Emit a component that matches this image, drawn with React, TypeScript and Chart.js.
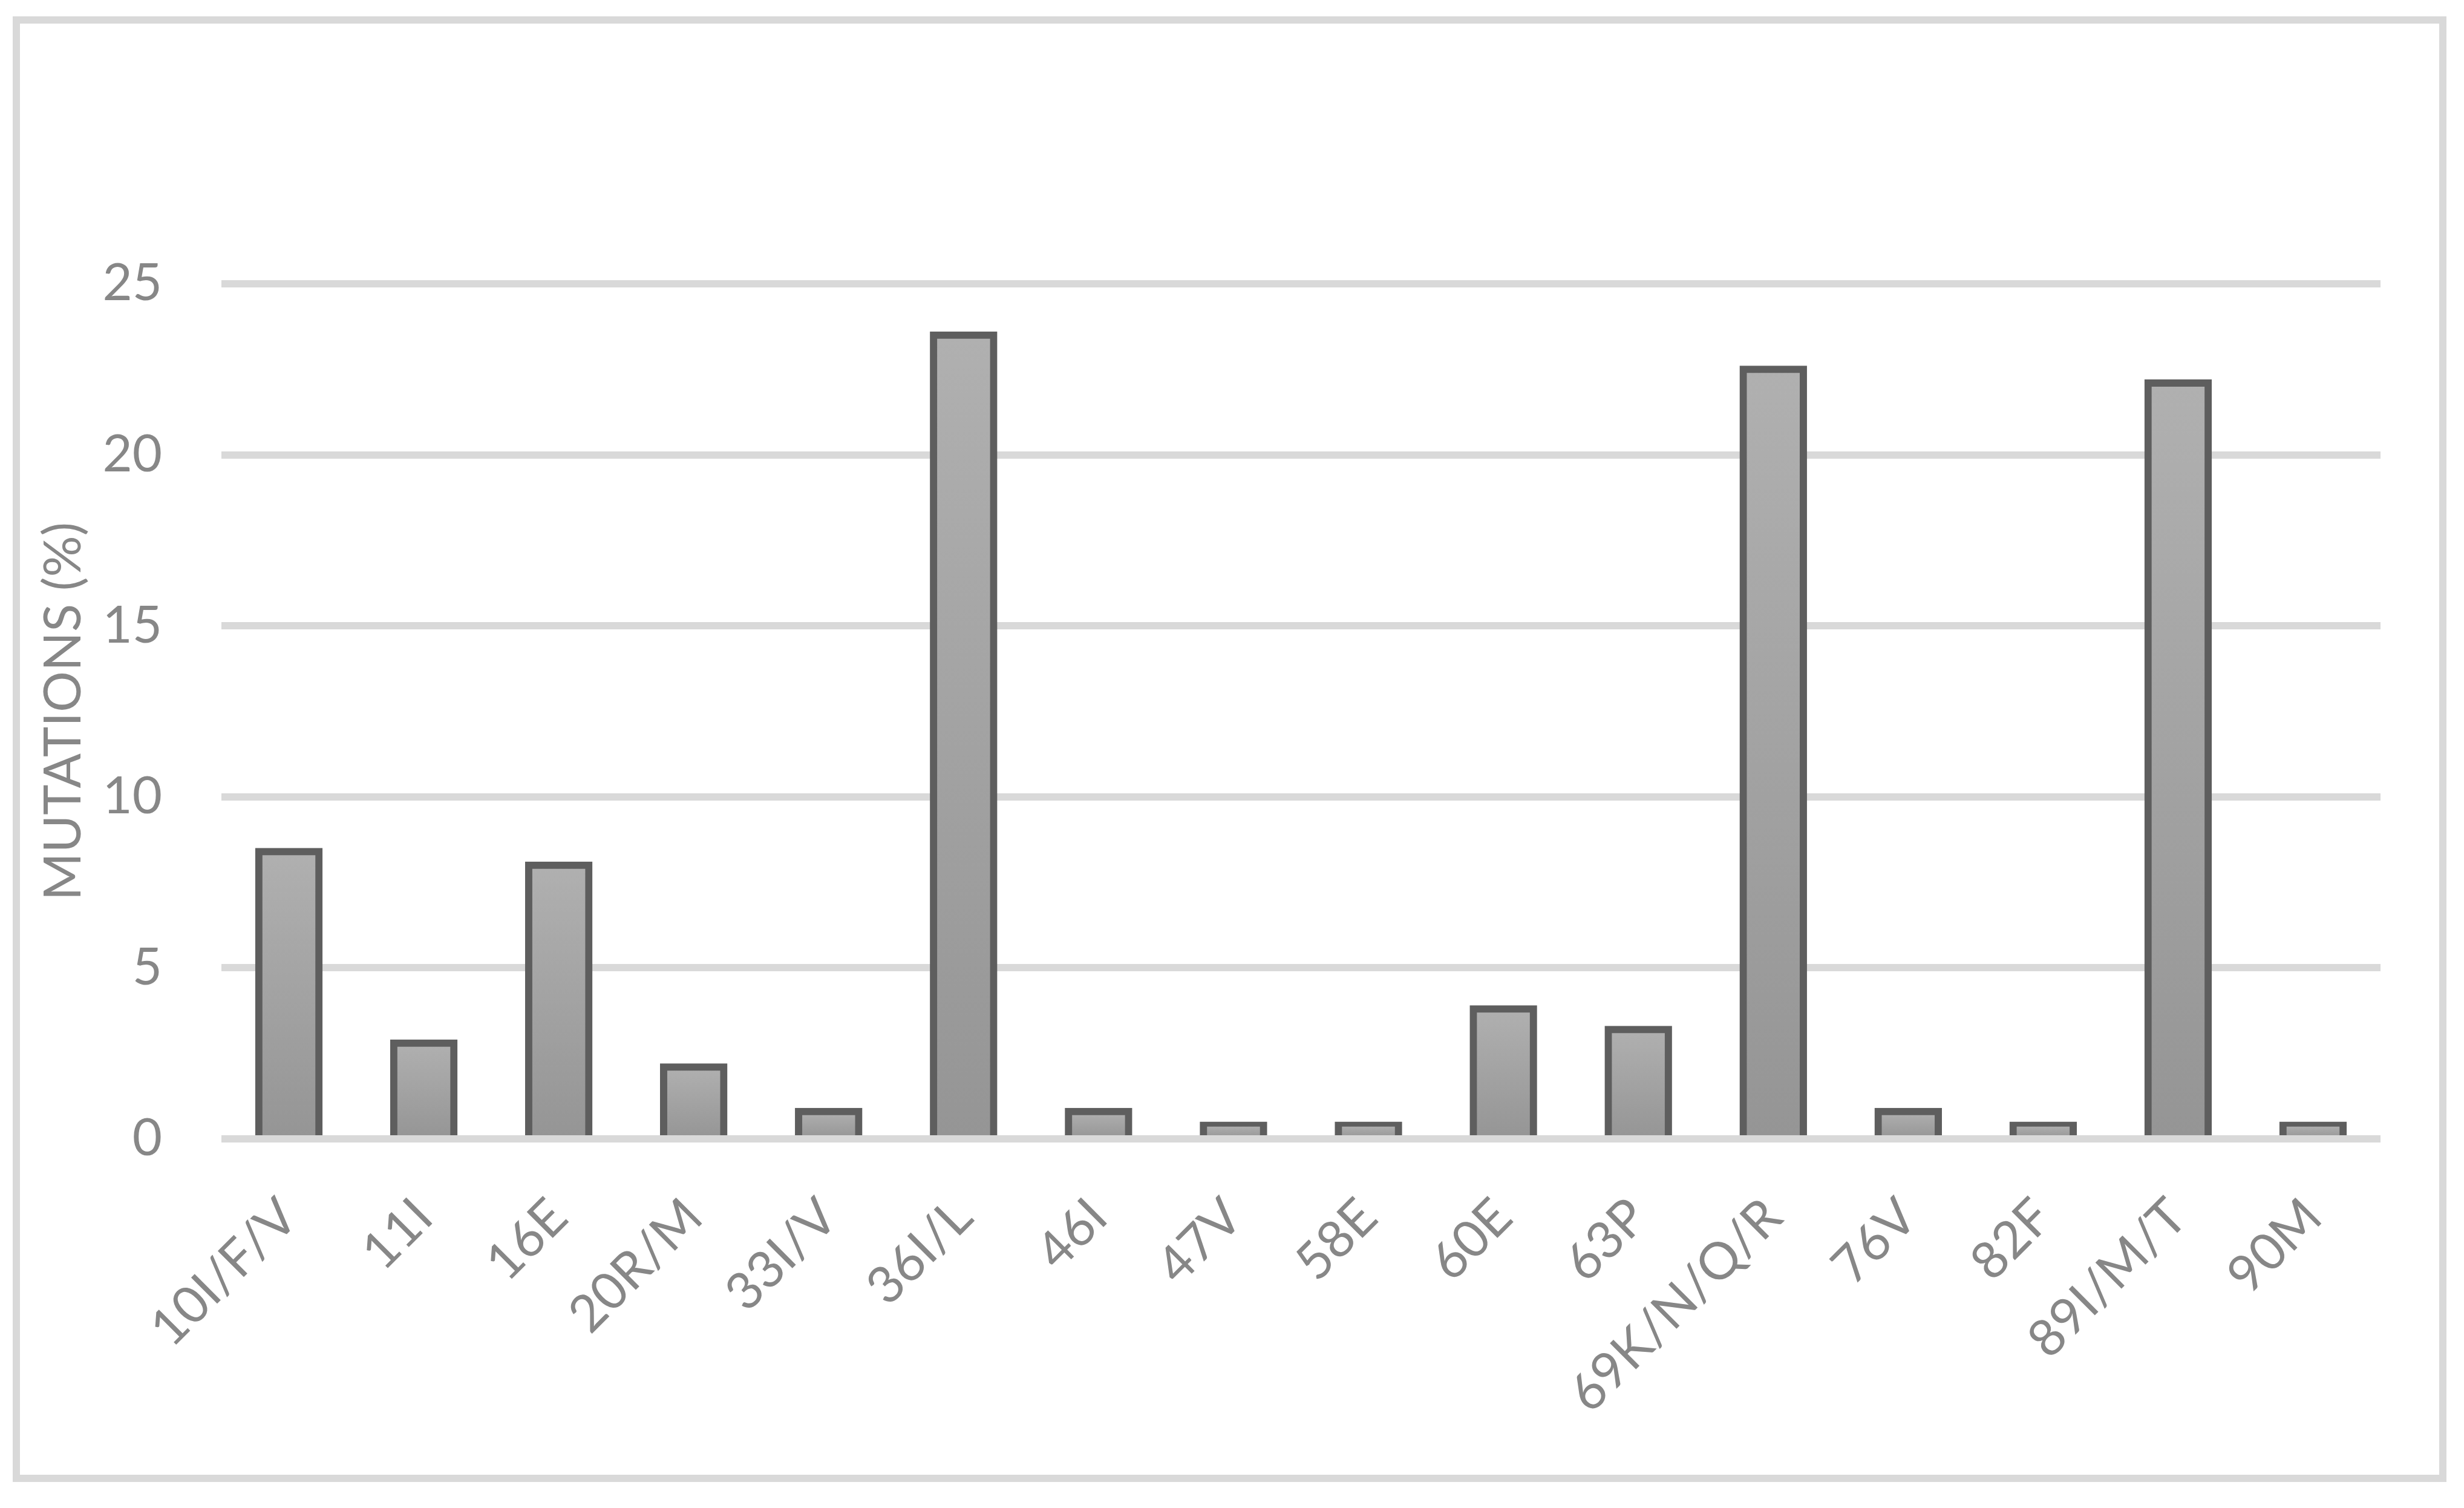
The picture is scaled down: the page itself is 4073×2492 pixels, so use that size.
import React, { useEffect, useRef } from "react";
import { Chart, registerables } from "chart.js";

Chart.register(...registerables);

const categories = [
  "10I/F/V", "11I", "16E", "20R/M", "33I/V", "36I/L", "46I", "47V",
  "58E", "60E", "63P", "69K/N/Q/R", "76V", "82F", "89I/M/T", "90M",
];
const mutationPct = [8.4, 2.8, 8.0, 2.1, 0.8, 23.5, 0.8, 0.4, 0.4, 3.8, 3.2, 22.5, 0.8, 0.4, 22.1, 0.4];
const yTicks = [0, 5, 10, 15, 20, 25];
const yTitle = "MUTATIONS (%)";

const W = 4073;
const H = 2492;
const AREA_LEFT = 366;
const AREA_RIGHT = 3935;
const AREA_TOP = 469;
const AREA_BOTTOM = 1882;

const TEXT_COLOR = "#878787";
const GRID_COLOR = "#d9d9d9";
const FONT_FAMILY = "Lato, Carlito, 'Open Sans', sans-serif";

const frame = {
  id: "frame",
  beforeDraw(chart: any) {
    const c = chart.ctx;
    c.save();
    c.fillStyle = "#ffffff";
    c.fillRect(0, 0, chart.width, chart.height);
    c.strokeStyle = GRID_COLOR;
    c.lineWidth = 12;
    c.strokeRect(27, 33, 4011, 2410);
    c.restore();
  },
};

const zeroLine = {
  id: "zeroLine",
  afterDatasetsDraw(chart: any) {
    const y = chart.scales.y;
    const a = chart.chartArea;
    const py = y.getPixelForValue(0);
    const c = chart.ctx;
    c.save();
    c.strokeStyle = GRID_COLOR;
    c.lineWidth = 12;
    c.beginPath();
    c.moveTo(a.left, py);
    c.lineTo(a.right, py);
    c.stroke();
    c.restore();
  },
};

export default function App() {
  const ref = useRef<HTMLCanvasElement | null>(null);

  useEffect(() => {
    if (!ref.current) return;
    const chart = new Chart(ref.current, {
      type: "bar",
      data: {
        labels: categories,
        datasets: [
          {
            data: mutationPct,
            backgroundColor: (ctx: any) => {
              const ch = ctx.chart;
              const ys = ch.scales && ch.scales.y;
              if (!ys || ctx.type !== "data") return "#a3a3a3";
              const top = ys.getPixelForValue(ctx.raw as number);
              const base = ys.getPixelForValue(0);
              if (!isFinite(top) || !isFinite(base) || base - top < 1) return "#a3a3a3";
              const g = ch.ctx.createLinearGradient(0, top, 0, base);
              g.addColorStop(0, "#b0b0b0");
              g.addColorStop(1, "#959595");
              return g;
            },
            borderColor: "#5e5e5e",
            borderWidth: 12,
            inflateAmount: 6,
            barPercentage: 0.446,
            categoryPercentage: 1,
          } as any,
        ],
      },
      options: {
        responsive: false,
        devicePixelRatio: 1,
        animation: false,
        layout: {
          padding: { left: 0, right: W - AREA_RIGHT, top: AREA_TOP, bottom: 0 },
        },
        plugins: {
          legend: { display: false },
          tooltip: { enabled: false },
        },
        scales: {
          x: {
            grid: { display: false, drawTicks: false },
            border: { display: false },
            ticks: {
              autoSkip: false,
              maxRotation: 45,
              minRotation: 45,
              padding: 79,
              color: TEXT_COLOR,
              font: { family: FONT_FAMILY, size: 85 },
            },
            afterFit: (s: any) => {
              s.height = H - AREA_BOTTOM;
            },
          },
          y: {
            min: 0,
            max: 25,
            grid: { color: GRID_COLOR, lineWidth: 12, drawTicks: false },
            border: { display: false },
            ticks: {
              stepSize: 5,
              padding: 98,
              color: TEXT_COLOR,
              font: { family: FONT_FAMILY, size: 85 },
            },
            afterBuildTicks: (s: any) => {
              s.ticks = yTicks.map((v) => ({ value: v }));
            },
            title: {
              display: true,
              text: yTitle,
              color: TEXT_COLOR,
              font: { family: FONT_FAMILY, size: 85 },
              padding: { top: 55, bottom: 0 },
            },
            afterFit: (s: any) => {
              s.width = AREA_LEFT;
            },
          },
        },
      },
      plugins: [frame, zeroLine],
    });
    return () => chart.destroy();
  }, []);

  return (
    <div style={{ position: "fixed", left: 0, top: 0, width: W, height: H, background: "#fff" }}>
      <canvas ref={ref} width={W} height={H} style={{ display: "block", width: W, height: H }} />
    </div>
  );
}
